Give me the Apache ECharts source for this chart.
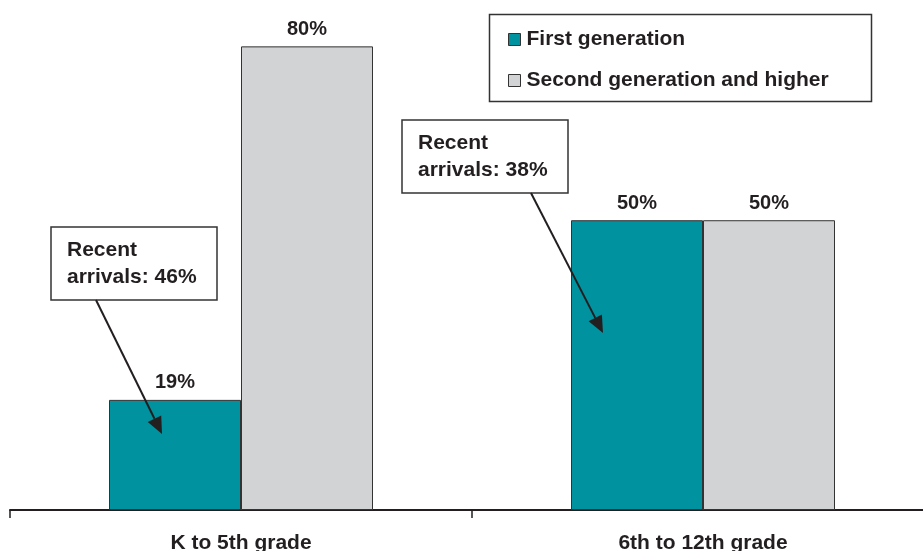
<!DOCTYPE html>
<html>
<head>
<meta charset="utf-8">
<script src="https://cdn.jsdelivr.net/npm/echarts@6/dist/echarts.min.js"></script>
<style>
  html, body { margin: 0; padding: 0; background: #ffffff; }
  #chart { width: 923px; height: 551px; }
</style>
</head>
<body>
<div id="chart"></div>
<script>
// Grade bands on the category axis
const categories = ['K to 5th grade', '6th to 12th grade'];
// Share of students (%) by generation
const firstGeneration = [19, 50];
const secondGeneration = [80, 50];
const seriesNames = ['First generation', 'Second generation and higher'];
// Call-out notes for recent arrivals
const calloutTexts = ['Recent\narrivals: 46%', 'Recent\narrivals: 38%'];

const TEAL = '#00929f';
const GREY = '#d1d3d4';
const EDGE = '#333333';
const FONT = '"Liberation Sans", Arial, sans-serif';

const chart = echarts.init(document.getElementById('chart'), null, { renderer: 'canvas' });

const labelStyle = {
  show: true,
  position: 'top',
  distance: 7,
  formatter: '{c}%',
  fontFamily: FONT,
  fontWeight: 'bold',
  fontSize: 20,
  color: '#231f20'
};

function arrow(x1, y1, x2, y2) {
  const ang = Math.atan2(y2 - y1, x2 - x1);
  const len = 17, half = 7.5;
  const bx = x2 - len * Math.cos(ang), by = y2 - len * Math.sin(ang);
  const px = -Math.sin(ang) * half, py = Math.cos(ang) * half;
  return [
    { type: 'line', z: 20, shape: { x1: x1, y1: y1, x2: bx, y2: by }, style: { stroke: '#231f20', lineWidth: 2 } },
    { type: 'polygon', z: 20, shape: { points: [[x2, y2], [bx + px, by + py], [bx - px, by - py]] }, style: { fill: '#231f20' } }
  ];
}

function callout(x, y, w, h, text) {
  return [
    { type: 'rect', shape: { x: x, y: y, width: w, height: h }, style: { fill: '#fff', stroke: EDGE, lineWidth: 1.5 }, z: 20 },
    { type: 'text', x: x + 16, y: y + 10, z: 21,
      style: { text: text, fontFamily: FONT, fontWeight: 'bold', fontSize: 21, lineHeight: 27, fill: '#231f20' } }
  ];
}

chart.setOption({
  animation: false,
  backgroundColor: '#ffffff',
  grid: { left: 10, width: 924, top: 0, height: 510, containLabel: false, outerBoundsMode: 'none' },
  legend: {
    orient: 'vertical',
    left: 503,
    top: 24,
    itemWidth: 12,
    itemHeight: 12,
    itemGap: 20,
    icon: 'rect',
    textStyle: { fontFamily: FONT, fontWeight: 'bold', fontSize: 21, color: '#231f20', padding: [0, 0, 0, 1] },
    data: seriesNames.map((n) => ({ name: n, itemStyle: { borderColor: EDGE, borderWidth: 1 } }))
  },
  xAxis: {
    type: 'category',
    data: categories,
    axisLine: { lineStyle: { color: '#231f20', width: 2 } },
    axisTick: { show: true, length: 8, lineStyle: { color: '#231f20', width: 1.5 } },
    axisLabel: {
      margin: 23,
      fontFamily: '"Liberation Sans Narrow", "Liberation Sans", Arial, sans-serif',
      fontWeight: 'bold',
      fontSize: 21,
      color: '#231f20'
    }
  },
  yAxis: {
    type: 'value',
    min: 0,
    max: 88,
    show: false,
    splitLine: { show: false }
  },
  series: [
    {
      name: seriesNames[0],
      type: 'bar',
      data: firstGeneration,
      barWidth: 132,
      barGap: '0%',
      itemStyle: { color: TEAL, borderColor: EDGE, borderWidth: 1 },
      label: labelStyle
    },
    {
      name: seriesNames[1],
      type: 'bar',
      data: secondGeneration,
      barWidth: 132,
      itemStyle: { color: GREY, borderColor: EDGE, borderWidth: 1 },
      label: labelStyle
    }
  ],
  graphic: [
    { type: 'rect', shape: { x: 489.5, y: 14.5, width: 382, height: 87 }, style: { fill: 'none', stroke: EDGE, lineWidth: 1.5 }, z: 0 },
    ...callout(51, 227, 166, 73, calloutTexts[0]),
    ...callout(402, 120, 166, 73, calloutTexts[1]),
    ...arrow(96, 300, 162, 434),
    ...arrow(531, 193, 603, 333)
  ]
});
</script>
</body>
</html>
